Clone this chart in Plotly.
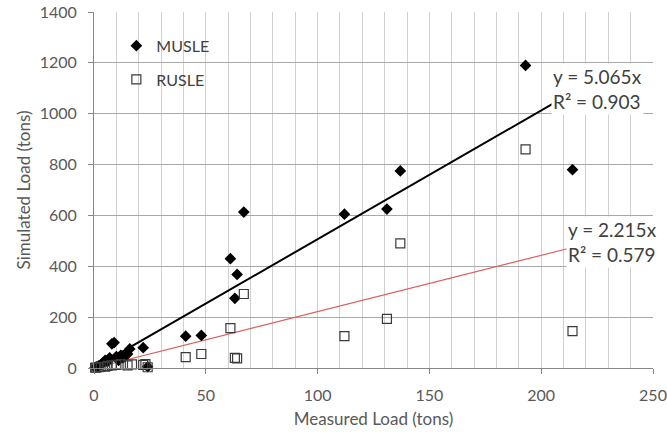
import plotly.graph_objects as go

# MUSLE (measured, simulated)
musle_x = [0.5, 1, 2, 3, 4, 5, 6, 7, 8, 9, 10, 11, 12, 13, 15, 16, 22, 24,
           41, 48, 61, 63, 64, 67, 112, 131, 137, 193, 214]
musle_y = [2, 5, 8, 12, 20, 30, 25, 40, 95, 100, 45, 30, 50, 40, 55, 75, 80, 5,
           125, 128, 430, 274, 368, 613, 605, 625, 775, 1190, 780]

# RUSLE (measured, simulated)
rusle_x = [0.5, 1, 2, 3, 5, 6, 8, 10, 12, 15, 17, 22, 23, 24,
           41, 48, 61, 63, 64, 67, 112, 131, 137, 193, 214]
rusle_y = [1, 2, 3, 4, 5, 8, 10, 12, 15, 10, 14, 12, 15, 3,
           43, 55, 157, 40, 38, 291, 125, 193, 490, 860, 145]

musle_slope = 5.065
musle_r2 = 0.903
rusle_slope = 2.215
rusle_r2 = 0.579

x_ticks = [0, 50, 100, 150, 200, 250]
y_ticks = [0, 200, 400, 600, 800, 1000, 1200, 1400]

FONT = "Lato"
GREY = "#595959"

fig = go.Figure()

x_end = max(musle_x)
fig.add_trace(go.Scatter(x=[0, x_end], y=[0, musle_slope * x_end], mode="lines",
                         line=dict(color="#000000", width=2), showlegend=False,
                         hoverinfo="skip"))
fig.add_trace(go.Scatter(x=[0, x_end], y=[0, rusle_slope * x_end], mode="lines",
                         line=dict(color="#d95f5f", width=1.2), showlegend=False,
                         hoverinfo="skip"))

fig.add_trace(go.Scatter(x=musle_x, y=musle_y, mode="markers", name="MUSLE",
                         legendgroup="a", cliponaxis=False,
                         marker=dict(symbol="diamond", size=9, color="#000000")))
fig.add_trace(go.Scatter(x=rusle_x, y=rusle_y, mode="markers", name="RUSLE",
                         legendgroup="b", cliponaxis=False,
                         marker=dict(symbol="square-open", size=9, color="#3a3a3a",
                                     line=dict(width=1.2, color="#3a3a3a"))))

fig.add_annotation(x=204.5, y=1200, xref="x", yref="y", xanchor="left", yanchor="top",
                   text=f"y = {musle_slope:.3f}x<br>R² = {musle_r2:.3f}",
                   showarrow=False, align="left", bgcolor="white",
                   font=dict(family=FONT, size=19, color="#404040"))
fig.add_annotation(x=211, y=598, xref="x", yref="y", xanchor="left", yanchor="top",
                   text=f"y = {rusle_slope:.3f}x<br>R² = {rusle_r2:.3f}",
                   showarrow=False, align="left", bgcolor="white",
                   font=dict(family=FONT, size=19, color="#404040"))

fig.update_layout(
    width=667, height=434,
    margin=dict(l=94, r=14, t=12, b=66),
    paper_bgcolor="white", plot_bgcolor="white",
    font=dict(family=FONT, size=16, color=GREY),
    showlegend=True,
    legend=dict(x=0.04, y=0.953, xanchor="left", yanchor="top",
                bgcolor="rgba(255,255,255,0)", tracegroupgap=10,
                traceorder="grouped", font=dict(family=FONT, size=16, color="#404040"),
                itemwidth=30),
    xaxis=dict(range=[0, 250], tickvals=x_ticks, ticks="outside", ticklen=5,
               tickcolor="#868686", showline=True, linecolor="#868686",
               showgrid=True, gridcolor="#d0d0d0", gridwidth=1,
               minor=dict(dtick=10, showgrid=True, gridcolor="#d0d0d0", gridwidth=1),
               zeroline=False, ticklabelstandoff=8, automargin=False,
               title=dict(text="Measured Load (tons)", font=dict(size=17, color=GREY),
                          standoff=9),
               tickfont=dict(size=16, color=GREY)),
    yaxis=dict(range=[0, 1400], tickvals=y_ticks, ticks="outside", ticklen=5,
               tickcolor="#868686", showline=True, linecolor="#868686",
               showgrid=True, gridcolor="#a8a8a8", gridwidth=1,
               zeroline=False, ticklabelstandoff=8, automargin=False,
               title=dict(text="Simulated Load (tons)", font=dict(size=17, color=GREY),
                          standoff=4),
               tickfont=dict(size=16, color=GREY)),
)

fig.write_html("out.html")
